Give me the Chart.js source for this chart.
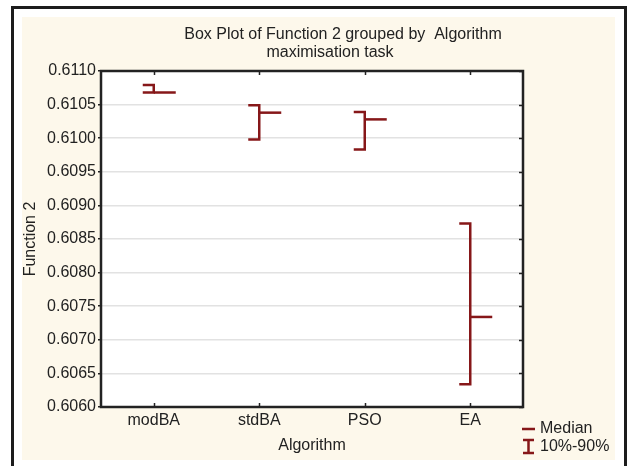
<!DOCTYPE html>
<html>
<head>
<meta charset="utf-8">
<script src="https://cdn.jsdelivr.net/npm/chart.js@4.4.0/dist/chart.umd.min.js"></script>
<style>
	body { margin: 0; background: #ffffff; }
	#frame {
		position: absolute; left: 11px; top: 6px; width: 610px; height: 470px;
		border: 3px solid #1c1c1c; background: #ffffff;
	}
	#cream {
		position: absolute; left: 22px; top: 17px; width: 593px; height: 443px;
		background: #fdf8eb;
	}
	#chart { position: absolute; left: 0; top: 0; }
</style>
</head>
<body>
<div id="frame"></div>
<div id="cream"></div>
<canvas id="chart" width="627" height="466"></canvas>
<script>
// values
var algorithms = ["modBA", "stdBA", "PSO", "EA"];
var p90Values = [0.61079, 0.61049, 0.61039, 0.60873];
var medianValues = [0.61068, 0.61038, 0.61028, 0.60734];
var p10Values = [0.61068, 0.60998, 0.60983, 0.60634];
var yMin = 0.606;
var yMax = 0.611;
var yStep = 0.0005;

var boxColor = "#861719";
var inkColor = "#222222";
var fontFamily = "'Liberation Sans', Arial, sans-serif";
var fontSize = 16;

//* white plot area + black frame with the little inward ticks
const plotFramePlugin = {
	id: "plotFrame",
	beforeDraw(chart) {
		const { ctx, chartArea } = chart;
		ctx.save();
		ctx.fillStyle = "#ffffff";
		ctx.fillRect(chartArea.left, chartArea.top, chartArea.right - chartArea.left, chartArea.bottom - chartArea.top);
		ctx.restore();
	},
	afterDraw(chart) {
		const { ctx, chartArea, scales } = chart;
		ctx.save();
		ctx.strokeStyle = inkColor;
		ctx.lineWidth = 1.5;
		// top / bottom ticks at the categories
		algorithms.forEach(function (_, i) {
			const px = Math.round(scales.x.getPixelForValue(i)) + 0.5;
			ctx.beginPath();
			ctx.moveTo(px, chartArea.top);
			ctx.lineTo(px, chartArea.top + 4);
			ctx.moveTo(px, chartArea.bottom);
			ctx.lineTo(px, chartArea.bottom - 4);
			ctx.stroke();
		});
		// right side ticks
		scales.y.ticks.forEach(function (tick) {
			const py = Math.round(scales.y.getPixelForValue(tick.value)) + 0.5;
			ctx.beginPath();
			ctx.moveTo(chartArea.right, py);
			ctx.lineTo(chartArea.right - 4, py);
			ctx.stroke();
		});
		ctx.lineWidth = 2.5;
		ctx.strokeRect(chartArea.left, chartArea.top, chartArea.right - chartArea.left, chartArea.bottom - chartArea.top);
		ctx.restore();
	},
};

//* the bracket shaped 10%-90% ranges and the medians
const bracketPlugin = {
	id: "brackets",
	afterDatasetsDraw(chart) {
		const { ctx, scales } = chart;
		const capLength = 11;
		const medianLength = 22;
		ctx.save();
		ctx.strokeStyle = boxColor;
		ctx.lineWidth = 2.5;
		ctx.lineJoin = "miter";
		algorithms.forEach(function (_, i) {
			const cx = scales.x.getPixelForValue(i);
			const top = scales.y.getPixelForValue(p90Values[i]);
			const bottom = scales.y.getPixelForValue(p10Values[i]);
			const median = scales.y.getPixelForValue(medianValues[i]);
			ctx.beginPath();
			ctx.moveTo(cx - capLength, top);
			ctx.lineTo(cx, top);
			ctx.lineTo(cx, bottom);
			ctx.lineTo(cx - capLength, bottom);
			ctx.stroke();
			ctx.beginPath();
			ctx.moveTo(cx, median);
			ctx.lineTo(cx + medianLength, median);
			ctx.stroke();
		});
		ctx.restore();
	},
};

//* title lines and the legend in the lower right corner
const textPlugin = {
	id: "extraText",
	afterDraw(chart) {
		const { ctx } = chart;
		ctx.save();
		ctx.fillStyle = inkColor;
		ctx.font = fontSize + "px " + fontFamily;
		ctx.textBaseline = "middle";
		ctx.textAlign = "center";
		ctx.fillText("Box Plot of Function 2 grouped by  Algorithm", 343, 35);
		ctx.fillText("maximisation task", 330, 53);

		ctx.textAlign = "left";
		ctx.fillText("Median", 540, 429);
		ctx.fillText("10%-90%", 540, 447);

		ctx.strokeStyle = boxColor;
		ctx.lineWidth = 2.5;
		ctx.beginPath();
		ctx.moveTo(522, 429);
		ctx.lineTo(535, 429);
		ctx.moveTo(523, 440);
		ctx.lineTo(534, 440);
		ctx.moveTo(528.5, 440);
		ctx.lineTo(528.5, 453);
		ctx.moveTo(523, 453);
		ctx.lineTo(534, 453);
		ctx.stroke();
		ctx.restore();
	},
};

const config = {
	type: "line",
	data: {
		labels: algorithms,
		datasets: [
			{
				label: "Median",
				data: medianValues,
				showLine: false,
				pointRadius: 0,
				borderColor: boxColor,
			},
		],
	},
	options: {
		responsive: false,
		animation: false,
		devicePixelRatio: 1,
		layout: {
			padding: { left: 0, top: 71, right: 104, bottom: 0 },
		},
		plugins: {
			legend: { display: false },
			title: { display: false },
			tooltip: { enabled: false },
		},
		scales: {
			x: {
				offset: true,
				grid: { display: false, drawTicks: false },
				border: { display: false },
				ticks: {
					color: inkColor,
					padding: 4,
					font: { family: fontFamily, size: fontSize },
				},
				title: {
					display: true,
					text: "Algorithm",
					color: inkColor,
					padding: { top: 0, bottom: 11 },
					font: { family: fontFamily, size: fontSize },
				},
				afterFit: function (scale) {
					scale.height = 59;
				},
			},
			y: {
				min: yMin,
				max: yMax,
				grid: {
					color: "#e2e2e2",
					lineWidth: 1.5,
					tickColor: inkColor,
					tickLength: 3,
				},
				border: { display: false },
				ticks: {
					stepSize: yStep,
					color: inkColor,
					padding: 2,
					font: { family: fontFamily, size: fontSize },
					callback: function (value) {
						return value.toFixed(4);
					},
				},
				title: {
					display: true,
					text: "Function 2",
					color: inkColor,
					padding: { top: 21, bottom: 0 },
					font: { family: fontFamily, size: fontSize },
				},
				afterFit: function (scale) {
					scale.width = 101;
				},
			},
		},
	},
	plugins: [plotFramePlugin, bracketPlugin, textPlugin],
};

var chart = new Chart(document.getElementById("chart"), config);
</script>
</body>
</html>
